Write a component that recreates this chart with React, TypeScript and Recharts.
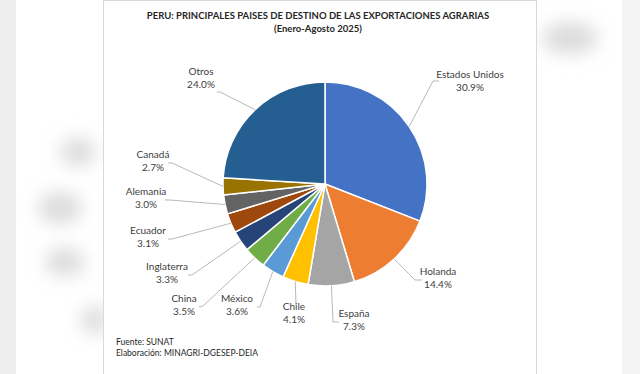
import React from "react";
import { PieChart, Pie, Cell } from "recharts";

const countries = [
  "Estados Unidos",
  "Holanda",
  "España",
  "Chile",
  "México",
  "China",
  "Inglaterra",
  "Ecuador",
  "Alemania",
  "Canadá",
  "Otros",
];
const shares = [30.9, 14.4, 7.3, 4.1, 3.6, 3.5, 3.3, 3.1, 3.0, 2.7, 24.0];
const colors = [
  "#4472C4",
  "#ED7D31",
  "#A5A5A5",
  "#FFC000",
  "#5B9BD5",
  "#70AD47",
  "#264478",
  "#9E480E",
  "#636363",
  "#997300",
  "#255E91",
];

// label layout, relative to pie centre: text centre, elbow, end of leader line
const labelLayout = [
  { tx: 145, ty: -104, ex: 108, ey: -103, hx: 114, hy: -103 },
  { tx: 113, ty: 93, ex: 90, ey: 96, hx: 97, hy: 96 },
  { tx: 29, ty: 135, ex: 8, ey: 138, hx: 14, hy: 138 },
  { tx: -31, ty: 128, ex: -29, ey: 121, hx: -29, hy: 121 },
  { tx: -88, ty: 120, ex: -65, ey: 123, hx: -68, hy: 123 },
  { tx: -141, ty: 120, ex: -122, ey: 122, hx: -126, hy: 123 },
  { tx: -158, ty: 88, ex: -133, ey: 91, hx: -137, hy: 91 },
  { tx: -177, ty: 52, ex: -153, ey: 55, hx: -157, hy: 55 },
  { tx: -179, ty: 13, ex: -155, ey: 16, hx: -160, hy: 16 },
  { tx: -172, ty: -24, ex: -153, ey: -21, hx: -157, hy: -21 },
  { tx: -124, ty: -107, ex: -105, ey: -92, hx: -108, hy: -92 },
];

const data = countries.map((name, i) => ({ name, value: shares[i] }));

const FONT = "Lato, 'Open Sans', sans-serif";
const RAD = Math.PI / 180;

const renderLabel = (props: any) => {
  const { cx, cy, midAngle, outerRadius, index, name, value } = props;
  const L = labelLayout[index];
  const sx = cx + outerRadius * Math.cos(-midAngle * RAD);
  const sy = cy + outerRadius * Math.sin(-midAngle * RAD);
  return (
    <g key={`lbl-${index}`}>
      <polyline
        points={`${sx},${sy} ${cx + L.ex},${cy + L.ey} ${cx + L.hx},${cy + L.hy}`}
        fill="none"
        stroke="#A6A6A6"
        strokeWidth={0.8}
      />
      <text
        x={cx + L.tx}
        y={cy + L.ty - 6}
        textAnchor="middle"
        dominantBaseline="central"
        fontFamily={FONT}
        fontSize={10}
        fill="#404040"
      >
        {name}
      </text>
      <text
        x={cx + L.tx}
        y={cy + L.ty + 6.5}
        textAnchor="middle"
        dominantBaseline="central"
        fontFamily={FONT}
        fontSize={10}
        fill="#404040"
      >
        {value.toFixed(1)}%
      </text>
    </g>
  );
};

export default function App() {
  return (
    <div
      style={{
        position: "absolute",
        left: 0,
        top: 0,
        width: 640,
        height: 374,
        background: "#ffffff",
        overflow: "hidden",
      }}
    >
      <svg width={640} height={374} style={{ position: "absolute", left: 0, top: 0 }}>
        <defs>
          <filter id="blur" x="-50%" y="-50%" width="200%" height="200%">
            <feGaussianBlur stdDeviation="9" />
          </filter>
        </defs>
        <rect x={0} y={0} width={16} height={374} fill="#eeeeee" />
        <rect x={622} y={0} width={18} height={374} fill="#f3f3f3" />
        <g filter="url(#blur)" fill="#dcdcdc">
          <ellipse cx={78} cy={152} rx={18} ry={14} />
          <ellipse cx={60} cy={208} rx={22} ry={16} />
          <ellipse cx={65} cy={262} rx={20} ry={14} />
          <ellipse cx={95} cy={320} rx={14} ry={14} />
          <ellipse cx={570} cy={38} rx={28} ry={16} />
        </g>
        <rect x={103.5} y={0.5} width={433} height={380} fill="#ffffff" stroke="#d9d9d9" strokeWidth={1} />
      </svg>
      <div style={{ position: "absolute", left: 0, top: 0 }}>
        <PieChart width={640} height={374} margin={{ top: 0, right: 0, bottom: 0, left: 0 }}>
          <text
            x={318}
            y={15}
            textAnchor="middle"
            dominantBaseline="central"
            fontFamily={FONT}
            fontSize={9.5}
            fontWeight={700}
            fill="#262626"
          >
            PERU: PRINCIPALES PAISES DE DESTINO DE LAS EXPORTACIONES  AGRARIAS
          </text>
          <text
            x={318}
            y={28}
            textAnchor="middle"
            dominantBaseline="central"
            fontFamily={FONT}
            fontSize={9.5}
            fontWeight={700}
            fill="#262626"
          >
            (Enero-Agosto 2025)
          </text>
          <Pie
            data={data}
            dataKey="value"
            nameKey="name"
            cx={325}
            cy={184}
            outerRadius={102}
            startAngle={90}
            endAngle={-270}
            stroke="#ffffff"
            strokeWidth={1.5}
            label={renderLabel}
            labelLine={false}
            isAnimationActive={false}
          >
            {data.map((d, i) => (
              <Cell key={d.name} fill={colors[i]} />
            ))}
          </Pie>
          <text x={116} y={342} dominantBaseline="central" fontFamily={FONT} fontSize={8.5} fill="#262626">
            Fuente:  SUNAT
          </text>
          <text x={116} y={353} dominantBaseline="central" fontFamily={FONT} fontSize={8.5} fill="#262626">
            Elaboración: MINAGRI-DGESEP-DEIA
          </text>
        </PieChart>
      </div>
    </div>
  );
}
